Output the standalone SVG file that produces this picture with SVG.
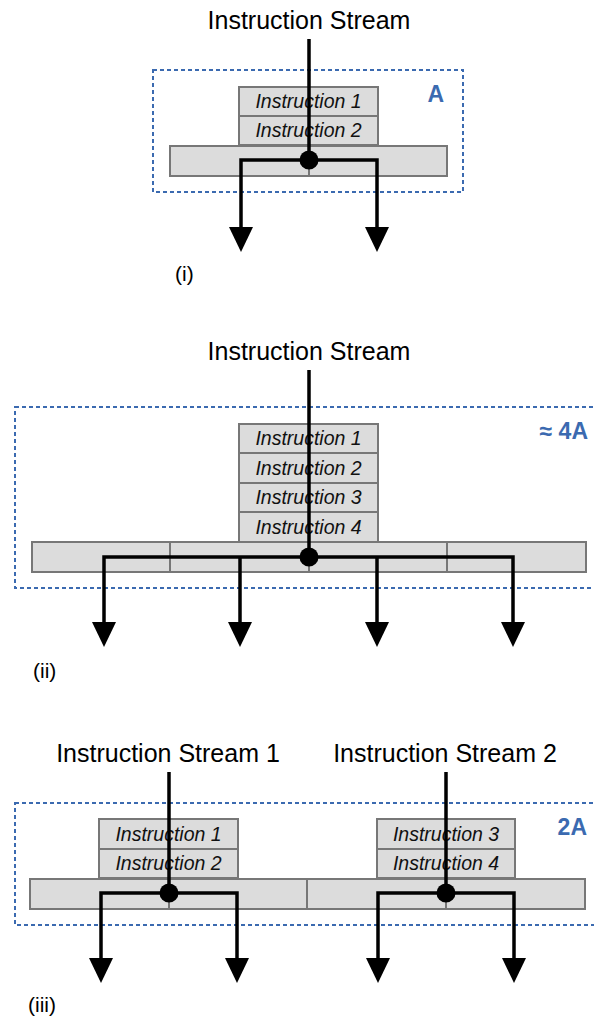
<svg xmlns="http://www.w3.org/2000/svg" width="594" height="1023" viewBox="0 0 594 1023">
<style>
.cell{fill:#dcdcdc;stroke:#777;stroke-width:2}
.div{stroke:#777;stroke-width:2}
.ins{font-family:"Liberation Sans",Arial,sans-serif;font-style:italic;font-size:19.5px;fill:#111;text-anchor:middle}
.title{font-family:"Liberation Sans",Arial,sans-serif;font-size:25px;fill:#000;text-anchor:middle}
.lbl{font-family:"Liberation Sans",Arial,sans-serif;font-size:21px;fill:#000}
.area{font-family:"Liberation Sans",Arial,sans-serif;font-size:23px;font-weight:bold;fill:#3b6ab0;text-anchor:end}
.dash{fill:none;stroke:#3b6ab0;stroke-width:2;stroke-dasharray:4 3}
.wire{fill:none;stroke:#000;stroke-width:3.5}
.head{fill:#000}
</style>
<rect width="594" height="1023" fill="#fff"/>

<!-- Panel (i) -->
<g id="panel-i">
  <rect class="dash" x="153" y="70" width="310" height="122"/>
  <text class="area" x="444" y="102">A</text>
  <g id="i-bar">
    <rect class="cell" x="170" y="146" width="277" height="30"/>
    <line class="div" x1="309" y1="146" x2="309" y2="176"/>
  </g>
  <g id="i-ins1"><rect class="cell" x="239" y="87" width="139" height="29"/><text class="ins" x="308.5" y="108">Instruction 1</text></g>
  <g id="i-ins2"><rect class="cell" x="239" y="116" width="139" height="29"/><text class="ins" x="308.5" y="137">Instruction 2</text></g>
  <text class="title" x="309" y="29">Instruction Stream</text>
  <text class="lbl" x="175" y="281">(i)</text>
</g>

<!-- Panel (ii) -->
<g id="panel-ii">
  <rect class="dash" x="15" y="407" width="600" height="181"/>
  <text class="area" x="588" y="439">≈ 4A</text>
  <g id="ii-bar">
    <rect class="cell" x="32" y="542" width="554" height="30"/>
    <line class="div" x1="170" y1="542" x2="170" y2="572"/>
    <line class="div" x1="309" y1="542" x2="309" y2="572"/>
    <line class="div" x1="447" y1="542" x2="447" y2="572"/>
  </g>
  <g id="ii-ins1"><rect class="cell" x="239" y="424" width="139" height="29"/><text class="ins" x="308.5" y="445">Instruction 1</text></g>
  <g id="ii-ins2"><rect class="cell" x="239" y="453" width="139" height="30"/><text class="ins" x="308.5" y="475">Instruction 2</text></g>
  <g id="ii-ins3"><rect class="cell" x="239" y="483" width="139" height="29"/><text class="ins" x="308.5" y="504">Instruction 3</text></g>
  <g id="ii-ins4"><rect class="cell" x="239" y="512" width="139" height="30"/><text class="ins" x="308.5" y="534">Instruction 4</text></g>
  <text class="title" x="309" y="360">Instruction Stream</text>
  <text class="lbl" x="33" y="678">(ii)</text>
</g>

<!-- Panel (iii) -->
<g id="panel-iii">
  <rect class="dash" x="15" y="803" width="600" height="122"/>
  <text class="area" x="587" y="835">2A</text>
  <g id="iii-bar">
    <rect class="cell" x="30" y="879" width="555" height="30"/>
    <line class="div" x1="169" y1="879" x2="169" y2="909"/>
    <line class="div" x1="307" y1="879" x2="307" y2="909"/>
    <line class="div" x1="446" y1="879" x2="446" y2="909"/>
  </g>
  <g id="iii-ins1"><rect class="cell" x="99" y="819" width="139" height="30"/><text class="ins" x="168.5" y="841">Instruction 1</text></g>
  <g id="iii-ins2"><rect class="cell" x="99" y="849" width="139" height="29"/><text class="ins" x="168.5" y="870">Instruction 2</text></g>
  <g id="iii-ins3"><rect class="cell" x="377" y="819" width="138" height="30"/><text class="ins" x="446" y="841">Instruction 3</text></g>
  <g id="iii-ins4"><rect class="cell" x="377" y="849" width="138" height="29"/><text class="ins" x="446" y="870">Instruction 4</text></g>
  <text class="title" x="168" y="762">Instruction Stream 1</text>
  <text class="title" x="445" y="762">Instruction Stream 2</text>
  <text class="lbl" x="28" y="1012">(iii)</text>
</g>

<!-- Connectors -->
<g id="connectors">
  <!-- (i) -->
  <path class="wire" d="M309 39 V160 M241 228 V160 H377 V228"/>
  <circle cx="309" cy="160" r="9.5"/>
  <path class="head" d="M229 227 H253 L241 252 Z"/>
  <path class="head" d="M365 227 H389 L377 252 Z"/>
  <!-- (ii) -->
  <path class="wire" d="M309 370 V557 M104 623 V557 H513 V623 M240 557 V623 M377 557 V623"/>
  <circle cx="309" cy="557" r="9.5"/>
  <path class="head" d="M92 622 H116 L104 647 Z"/>
  <path class="head" d="M228 622 H252 L240 647 Z"/>
  <path class="head" d="M365 622 H389 L377 647 Z"/>
  <path class="head" d="M501 622 H525 L513 647 Z"/>
  <!-- (iii) -->
  <path class="wire" d="M169 772 V893 M101 959 V893 H237 V959"/>
  <path class="wire" d="M446 772 V893 M378 959 V893 H514 V959"/>
  <circle cx="169" cy="893" r="9.5"/>
  <circle cx="446" cy="893" r="9.5"/>
  <path class="head" d="M89 958 H113 L101 983 Z"/>
  <path class="head" d="M225 958 H249 L237 983 Z"/>
  <path class="head" d="M366 958 H390 L378 983 Z"/>
  <path class="head" d="M502 958 H526 L514 983 Z"/>
</g>
</svg>
